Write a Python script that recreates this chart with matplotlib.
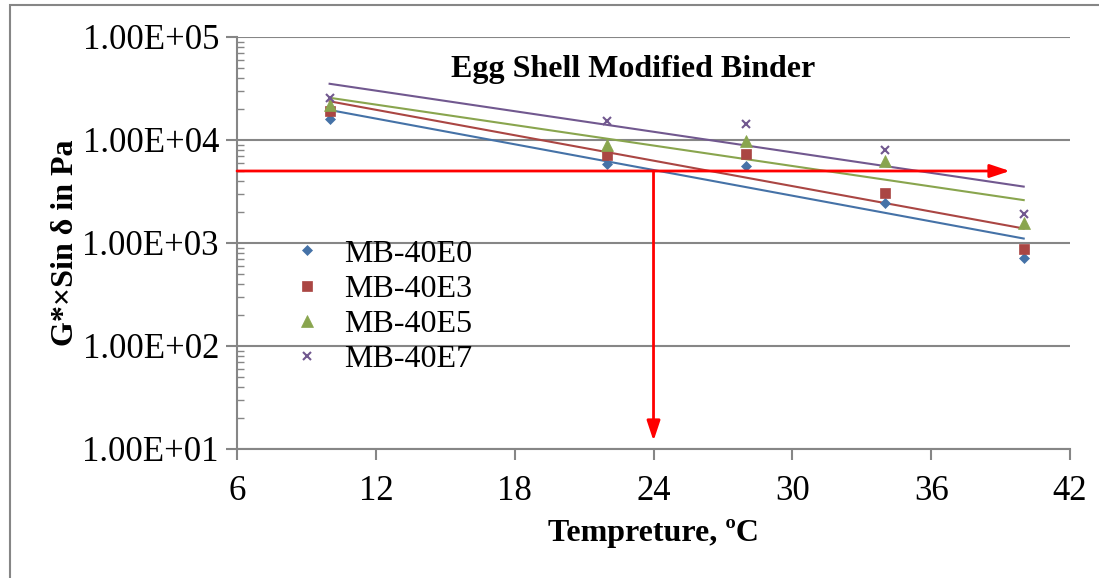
import numpy as np
import matplotlib.pyplot as plt
from matplotlib.patches import Rectangle
from matplotlib.ticker import FixedLocator, LogLocator, NullFormatter

plt.rcParams['font.family'] = ['Liberation Serif', 'DejaVu Serif']

temps = [10, 22, 28, 34, 40]
names = ['MB-40E0', 'MB-40E3', 'MB-40E5', 'MB-40E7']
e0 = [16000, 5850, 5600, 2460, 710]
e3 = [19200, 7100, 7300, 3040, 870]
e5 = [21900, 8900, 9800, 6250, 1550]
e7 = [25500, 15400, 14300, 8000, 1910]
series = [e0, e3, e5, e7]
colors = ['#4572A7', '#AA4643', '#89A54E', '#71588F']
markers = ['D', 's', '^', 'x']
msizes = [5, 7, 8, 6]

# red guide lines at 5000 Pa / 24 C
ref_val = 5000
ref_temp = 24

fig = plt.figure(figsize=(10.99, 5.78), dpi=100)
ax = fig.add_axes([0.2157, 0.2232, 0.7579, 0.7128])

# outer chart frame
fig.patches.append(Rectangle((10 / 1099, -0.1), 1.2, 1.1 - 5 / 578,
                             transform=fig.transFigure, fill=False,
                             edgecolor='#868686', linewidth=1.5))

for i, ys in enumerate(series):
    ax.plot(temps, ys, linestyle='none', marker=markers[i], color=colors[i],
            markersize=msizes[i], markeredgewidth=1.5 if markers[i] == 'x' else 0.5,
            label=names[i], zorder=4)
    # exponential trendline like excel
    k, b = np.polyfit(temps, np.log10(ys), 1)
    xt = np.array([temps[0], temps[-1]])
    ax.plot(xt, 10 ** (k * xt + b), color=colors[i], linewidth=1.5, zorder=3)

ax.set_yscale('log')
ax.set_xlim(6, 42)
ax.set_ylim(10, 1e5)
ax.xaxis.set_major_locator(FixedLocator([6, 12, 18, 24, 30, 36, 42]))
ax.yaxis.set_major_locator(FixedLocator([1e1, 1e2, 1e3, 1e4, 1e5]))
ax.yaxis.set_minor_locator(LogLocator(base=10, subs=np.arange(2, 10)))
ax.yaxis.set_minor_formatter(NullFormatter())
ax.set_yticklabels(['1.00E+01', '1.00E+02', '1.00E+03', '1.00E+04', '1.00E+05'])
ax.grid(axis='y', which='major', color='#868686', linewidth=1.5)

for s in ['top', 'right']:
    ax.spines[s].set_visible(False)
for s in ['left', 'bottom']:
    ax.spines[s].set_color('#868686')
    ax.spines[s].set_linewidth(1.5)
ax.tick_params(axis='both', which='major', direction='out', length=8, width=1.5,
               color='#868686', labelsize=25, pad=5)
ax.tick_params(axis='x', which='major', pad=11)
ax.tick_params(axis='y', which='minor', direction='in', length=5, width=1,
               color='#868686')

ax.annotate('', xy=(39.4, ref_val), xytext=(6, ref_val),
            arrowprops=dict(arrowstyle='-|>,head_length=1.2,head_width=0.4',
                            color='red', lw=2, shrinkA=0, shrinkB=0), zorder=5)
ax.annotate('', xy=(ref_temp, 12), xytext=(ref_temp, ref_val),
            arrowprops=dict(arrowstyle='-|>,head_length=1.2,head_width=0.4',
                            color='red', lw=2, shrinkA=0, shrinkB=0), zorder=5)

ax.text(0.476, 0.92, 'Egg Shell Modified Binder', transform=ax.transAxes,
        ha='center', va='center', fontsize=23, fontweight='bold')
ax.set_xlabel('Tempreture, ºC', fontsize=23, fontweight='bold', labelpad=8)
ax.set_ylabel('G*×Sin δ in Pa', fontsize=23, fontweight='bold', labelpad=2)

leg = ax.legend(loc='upper left', bbox_to_anchor=(0.05, 0.54), frameon=False,
                fontsize=23, handletextpad=0.65, labelspacing=0.18,
                handlelength=1.0, borderaxespad=0)

fig.savefig('out.png', dpi=100)
